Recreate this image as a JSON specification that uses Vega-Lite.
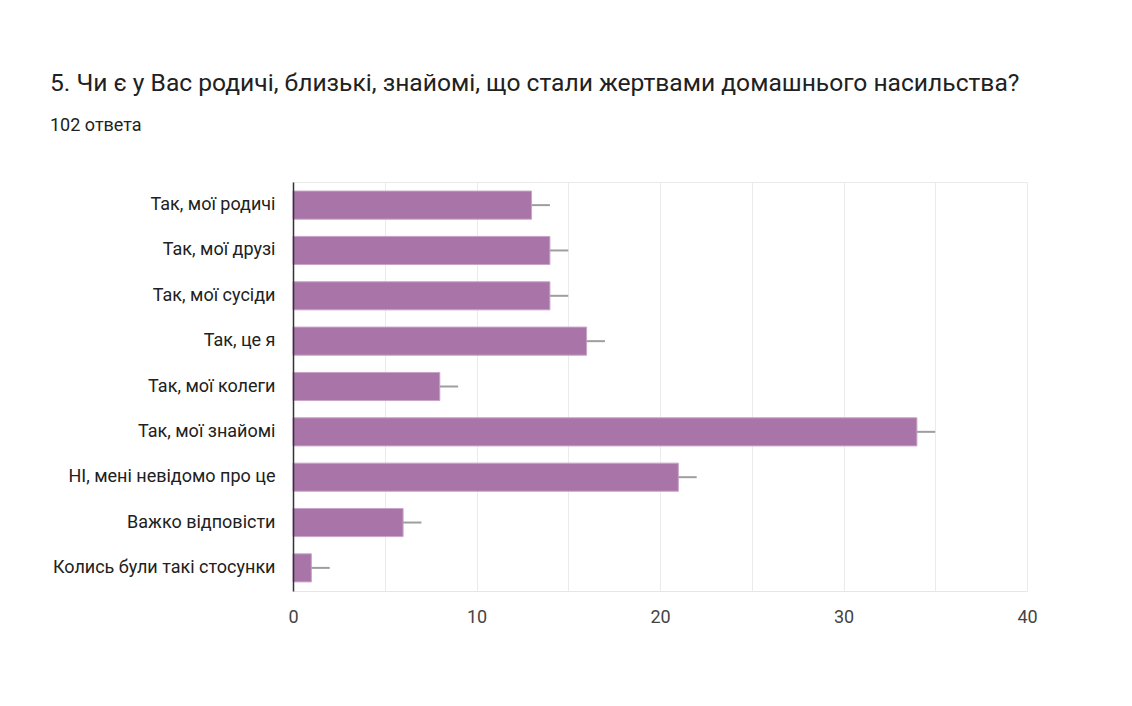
{
  "$schema": "https://vega.github.io/schema/vega-lite/v6.json",
  "width": 734,
  "height": 409,
  "autosize": "none",
  "padding": {"left": 293, "top": 182, "right": 105, "bottom": 115},
  "background": "white",
  "title": {
    "text": "5. Чи є у Вас родичі, близькі, знайомі, що стали жертвами домашнього насильства?",
    "subtitle": "102 ответа",
    "anchor": "start",
    "frame": "group",
    "dx": -243,
    "offset": 46,
    "font": "Roboto",
    "fontSize": 24.6,
    "fontWeight": "normal",
    "color": "#212121",
    "subtitleFont": "Roboto",
    "subtitleFontSize": 18,
    "subtitleColor": "#212121",
    "subtitlePadding": 20
  },
  "data": {
    "values": [
      {"answer": "Так, мої родичі", "count": 13, "upper": 14},
      {"answer": "Так, мої друзі", "count": 14, "upper": 15},
      {"answer": "Так, мої сусіди", "count": 14, "upper": 15},
      {"answer": "Так, це я", "count": 16, "upper": 17},
      {"answer": "Так, мої колеги", "count": 8, "upper": 9},
      {"answer": "Так, мої знайомі", "count": 34, "upper": 35},
      {"answer": "НІ, мені невідомо про це", "count": 21, "upper": 22},
      {"answer": "Важко відповісти", "count": 6, "upper": 7},
      {"answer": "Колись були такі стосунки", "count": 1, "upper": 2}
    ]
  },
  "encoding": {
    "y": {
      "field": "answer",
      "type": "nominal",
      "sort": null,
      "scale": {"paddingInner": 0.38, "paddingOuter": 0.2},
      "axis": {
        "title": null,
        "ticks": false,
        "labelPadding": 18,
        "labelFont": "Roboto",
        "labelFontSize": 18,
        "labelColor": "#212121",
        "labelLimit": 400,
        "domainColor": "#333333",
        "domainWidth": 1.5,
        "grid": false,
        "zindex": 2
      }
    }
  },
  "layer": [
    {
      "mark": {"type": "bar", "color": "#a974a8", "stroke": "#caa3c9", "strokeWidth": 1},
      "encoding": {
        "x": {
          "field": "count",
          "type": "quantitative",
          "scale": {"domain": [0, 40], "nice": false},
          "axis": {
            "title": null,
            "values": [0, 5, 10, 15, 20, 25, 30, 35, 40],
            "labelExpr": "datum.value % 10 === 0 ? datum.label : ''",
            "ticks": false,
            "labelFlush": false,
            "labelPadding": 17,
            "labelFont": "Roboto",
            "labelFontSize": 18,
            "labelColor": "#444444",
            "domainColor": "#e6e6e6",
            "gridColor": "#ebebeb",
            "grid": true
          }
        }
      }
    },
    {
      "mark": {"type": "rule", "color": "#9e9e9e", "strokeWidth": 2},
      "encoding": {
        "x": {"field": "count", "type": "quantitative"},
        "x2": {"field": "upper"}
      }
    }
  ],
  "config": {
    "view": {"stroke": "#ebebeb"}
  }
}
